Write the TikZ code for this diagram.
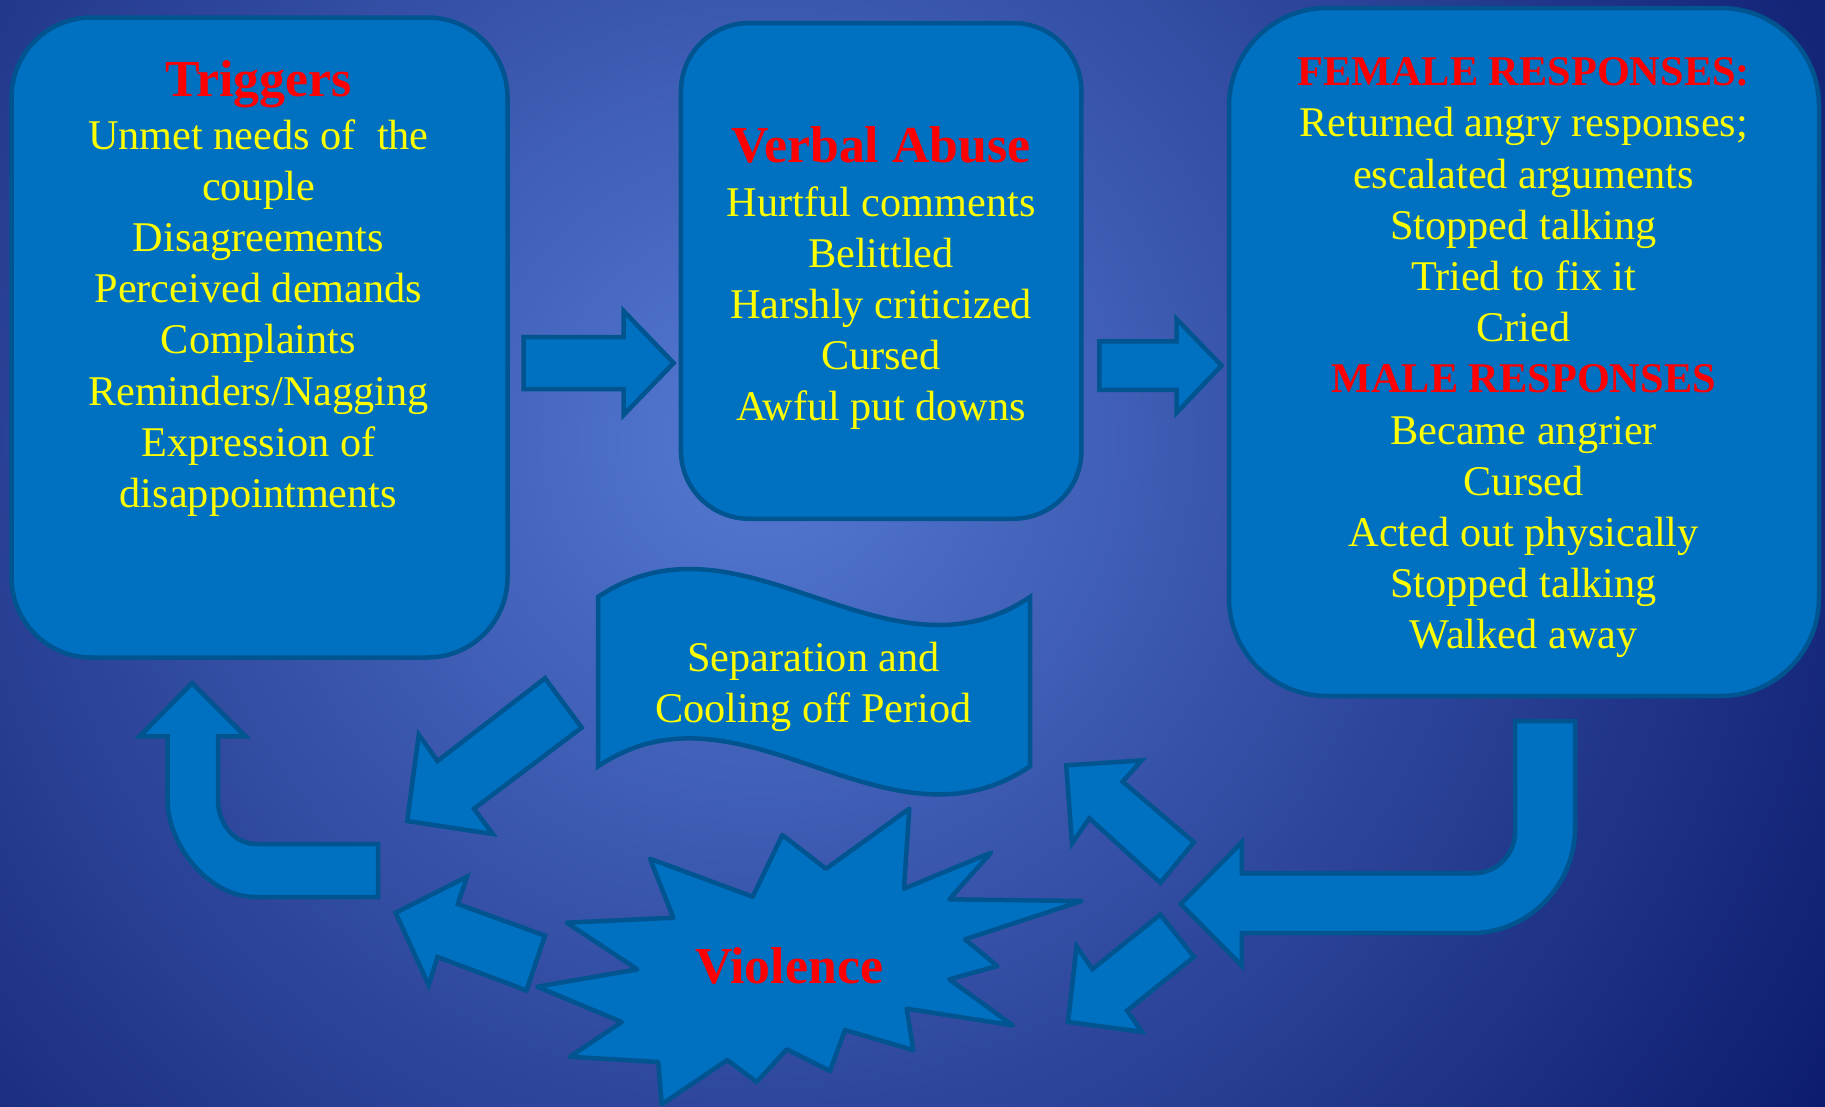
\documentclass[tikz,border=0pt]{standalone}
\usepackage{fontspec}
\setmainfont{Liberation Serif}
\definecolor{bgin}{HTML}{5479D2}
\definecolor{bgout}{HTML}{0A186A}
\definecolor{boxblue}{HTML}{0070C0}
\definecolor{boxedge}{HTML}{005490}
\definecolor{yel}{HTML}{FFFF00}
\definecolor{redt}{HTML}{FF0000}
\begin{document}
\begin{tikzpicture}[x=1pt,y=-1pt,
  shp/.style={fill=boxblue,draw=boxedge,line width=4.5pt},
  boxnode/.style={shp,rectangle,inner sep=0pt,outer sep=0pt},
  body/.style={text=yel,font=\fontsize{42.3}{51}\selectfont,anchor=base,inner sep=0pt},
  ttl/.style={text=redt,font=\fontsize{51.8}{60}\selectfont\bfseries,anchor=base,inner sep=0pt},
  hdr/.style={text=redt,font=\fontsize{42.3}{51}\selectfont\bfseries,anchor=base,inner sep=0pt}]
\useasboundingbox (0,0) rectangle (1825,1106);
% background
\fill[bgout] (-10,-10) rectangle (1835,1116);
\begin{scope}
  \clip (-10,-10) rectangle (1835,1116);
  \shade[inner color=bgin,outer color=bgout] (760,440) circle (1300);
\end{scope}

% boxes
\node[boxnode,rounded corners=80pt,minimum width=496pt,minimum height=640pt] (trig) at (259.5,337.5) {};
\node[boxnode,rounded corners=68pt,minimum width=400.5pt,minimum height=495.7pt] (verb) at (881.2,270.9) {};
\node[boxnode,rounded corners=98pt,minimum width=590pt,minimum height=688pt] (resp) at (1524,352) {};

% right-pointing block arrows
\draw[shp] (523.6,337) -- (623.6,337) -- (623.6,311) -- (673.6,363) -- (623.6,415) -- (623.6,389) -- (523.6,389) -- cycle;
\draw[shp] (1099.3,341.4) -- (1176.7,341.4) -- (1176.7,319.2) -- (1221.5,365.5) -- (1176.7,412.7) -- (1176.7,389.8) -- (1099.3,389.8) -- cycle;

% banner (wave)
\draw[shp] (598,597) .. controls (742,500) and (886,694) .. (1030,597)
  -- (1030,766.4) .. controls (886,863.4) and (742,669.4) .. (598,766.4) -- cycle;

% left U-turn arrow (up)
\draw[shp] (192,683) -- (245.5,736.4) -- (218,736.4) -- (218,800)
  .. controls (218,824.3) and (235,844) .. (256,844) -- (378,844) -- (378,897) -- (256,897)
  .. controls (207.1,897) and (167.5,843.5) .. (167.5,800) -- (167.5,736.4) -- (139.6,736.4) -- cycle;

% right U-turn arrow (left)
\draw[shp] (1515,721) -- (1515,832) .. controls (1515,854.8) and (1496.4,873.3) .. (1473.4,873.3)
  -- (1241.8,873.3) -- (1241.8,842.2) -- (1180.8,904) -- (1241.8,965.7) -- (1241.8,933.2) -- (1470.5,933.2)
  .. controls (1528.2,933.2) and (1575,886.1) .. (1575,828) -- (1575,721) -- cycle;

% diagonal arrows
\draw[shp] (545,678.2) -- (581.7,727.6) -- (474,808.7) -- (492.7,834) -- (407.2,821) -- (418.8,734.7) -- (437.5,761) -- cycle;
\draw[shp] (395.6,912.8) -- (467,876.8) -- (457.8,904) -- (545,935.7) -- (526.5,990.4) -- (437.5,957) -- (428.7,985) -- cycle;
\draw[shp] (1066.2,765.3) -- (1141.8,760.4) -- (1122.6,781.6) -- (1194,842.2) -- (1160.4,882.8) -- (1089.4,818.3) -- (1072,843.3) -- cycle;
\draw[shp] (1160.4,914.5) -- (1194,956.9) -- (1127.2,1010.5) -- (1141.8,1031.7) -- (1068,1022) -- (1076.6,946.3) -- (1092.3,969.2) -- cycle;

% explosion
\draw[shp,line join=round] (650,858.7) -- (752.7,896.7) -- (782.3,835) -- (826,868.7) -- (909.3,808.7) -- (904,888.7)
  -- (991,852.7) -- (949.3,899.3) -- (1081.7,901) -- (965,939.3) -- (997.3,966) -- (949.3,979.3)
  -- (1012.7,1025.3) -- (906.7,1008.7) -- (913.3,1050) -- (845,1030) -- (830,1071) -- (786.7,1049.3)
  -- (756.7,1082) -- (727.3,1060) -- (661.7,1104.3) -- (658.3,1062) -- (570,1056.7) -- (621.7,1022)
  -- (537.3,986.7) -- (637.3,969.3) -- (566.7,922.7) -- (673.3,917.7) -- cycle;

% texts: triggers
\node[ttl] (trigT) at (258.4,96) {Triggers};
\foreach \txt [count=\i from 0] in {Unmet needs of\ \ the, couple, Disagreements, Perceived demands, Complaints, Reminders/Nagging, Expression of, disappointments}
  \node[body] (trigL\i) at (258.4,{149+51.2*\i}) {\txt};

% texts: verbal abuse
\node[ttl] (verbT) at (881,162) {Verbal Abuse};
\foreach \txt [count=\i from 0] in {Hurtful comments, Belittled, Harshly criticized, Cursed, Awful put downs}
  \node[body] (verbL\i) at (881,{216+51.2*\i}) {\txt};

% texts: responses
\node[hdr] (femT) at (1523.6,85.7) {FEMALE RESPONSES:};
\foreach \txt [count=\i from 1] in {Returned angry responses;, escalated arguments, Stopped talking, Tried to fix it, Cried}
  \node[body] (femL\i) at (1523.6,{85.7+51.2*\i}) {\txt};
\node[hdr] (malT) at (1523.6,{85.7+51.2*6}) {MALE RESPONSES};
\foreach \txt [count=\i from 7] in {Became angrier, Cursed, Acted out physically, Stopped talking, Walked away}
  \node[body] (malL\i) at (1523.6,{85.7+51.2*\i}) {\txt};

% banner text
\node[body] (sep1) at (813.6,671) {Separation and};
\node[body] (sep2) at (813.6,722.3) {Cooling off Period};

% violence
\node[ttl] (viol) at (789,983) {Violence};
\end{tikzpicture}
\end{document}
